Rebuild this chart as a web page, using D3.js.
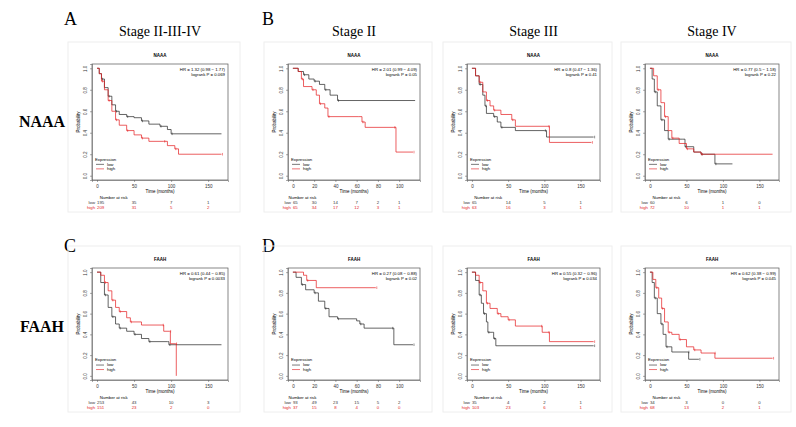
<!DOCTYPE html><html><head><meta charset="utf-8">
<script src="https://cdn.jsdelivr.net/npm/d3@7/dist/d3.min.js"></script>
<style>body{margin:0;background:#fff}</style></head><body>
<svg id="c" width="796" height="427"></svg>
<script>
const genes=["NAAA","NAAA","NAAA","NAAA","FAAH","FAAH","FAAH","FAAH"];
const xMaxes=[170,115,170,170,170,115,170,170];
const xTicks=[[0,50,100,150],[0,20,40,60,80,100],[0,50,100,150],[0,50,100,150],[0,50,100,150],[0,20,40,60,80,100],[0,50,100,150],[0,50,100,150]];
const hrText=["HR = 1.32 (0.98 − 1.77)","HR = 2.01 (0.99 − 4.09)","HR = 0.8 (0.47 − 1.36)","HR = 0.77 (0.5 − 1.18)","HR = 0.61 (0.44 − 0.85)","HR = 0.27 (0.08 − 0.88)","HR = 0.55 (0.32 − 0.96)","HR = 0.62 (0.38 − 0.99)"];
const pText=["logrank P = 0.069","logrank P = 0.05","logrank P = 0.41","logrank P = 0.22","logrank P = 0.0033","logrank P = 0.02","logrank P = 0.034","logrank P = 0.045"];
const lowCurves=[
[[0,1],[3,.95],[6,.9],[10,.82],[15,.74],[20,.66],[25,.6],[30,.57],[40,.55],[50,.54],[60,.51],[70,.48],[85,.46],[95,.43],[100,.39],[168,.39]],
[[0,1],[5,.97],[10,.94],[15,.9],[20,.88],[25,.85],[30,.8],[35,.75],[42,.7],[115,.7]],
[[0,1],[5,.93],[10,.85],[15,.75],[18,.65],[20,.58],[30,.55],[35,.5],[40,.45],[60,.42],[100,.42],[103,.36],[168,.36]],
[[0,1],[3,.9],[6,.78],[10,.65],[15,.52],[20,.42],[25,.34],[45,.34],[48,.27],[60,.22],[70,.2],[88,.2],[89,.11],[113,.11]],
[[0,1],[5,.9],[10,.78],[15,.66],[20,.57],[25,.5],[30,.46],[40,.43],[50,.4],[60,.36],[70,.33],[95,.33],[97,.3],[168,.3]],
[[0,1],[3,.95],[8,.88],[12,.83],[20,.8],[24,.72],[30,.65],[34,.57],[42,.55],[60,.53],[63,.5],[67,.46],[93,.46],[95,.3],[113,.3]],
[[0,1],[5,.92],[10,.78],[13,.7],[16,.6],[20,.52],[22,.42],[28,.42],[30,.36],[33,.29],[168,.29]],
[[0,1],[3,.9],[6,.75],[10,.6],[15,.5],[18,.4],[22,.28],[30,.23],[52,.23],[53,.16],[67,.16]]];
const highCurves=[
[[0,1],[3,.95],[6,.88],[10,.8],[15,.7],[20,.6],[25,.52],[30,.47],[40,.42],[50,.38],[60,.35],[70,.32],[90,.32],[95,.28],[105,.25],[110,.2],[168,.2]],
[[0,1],[5,.97],[8,.9],[10,.83],[18,.8],[22,.75],[25,.67],[30,.63],[33,.55],[62,.55],[65,.5],[68,.45],[95,.45],[97,.22],[113,.22]],
[[0,1],[5,.93],[10,.87],[15,.78],[20,.7],[25,.65],[30,.61],[40,.57],[55,.52],[60,.46],[105,.46],[107,.31],[165,.31]],
[[0,1],[5,.93],[10,.8],[15,.68],[20,.55],[25,.42],[30,.35],[40,.3],[50,.25],[60,.22],[70,.2],[168,.2]],
[[0,1],[5,.97],[10,.9],[15,.82],[20,.73],[25,.66],[30,.62],[40,.56],[45,.52],[60,.49],[88,.49],[90,.43],[98,.43],[99,.31],[106,.31],[107,0]],
[[0,1],[10,.97],[13,.92],[22,.85],[78,.85]],
[[0,1],[5,.97],[10,.9],[15,.82],[20,.7],[25,.65],[35,.6],[40,.57],[50,.54],[60,.48],[95,.48],[97,.42],[105,.42],[107,.33],[168,.33]],
[[0,1],[4,.93],[8,.85],[12,.75],[16,.65],[20,.52],[25,.42],[30,.4],[40,.35],[50,.28],[60,.25],[70,.22],[88,.22],[89,.17],[168,.17]]];
const riskLow=[[195,35,7,1],[65,30,14,7,2,1],[65,14,5,1],[60,6,1,0],[253,43,10,3],[93,49,23,15,5,2],[35,4,2,1],[34,3,0,0]];
const riskHigh=[[209,31,5,2],[65,34,17,12,3,1],[63,16,3,1],[72,10,1,1],[151,23,2,0],[37,15,8,4,0,0],[103,23,6,1],[68,13,2,1]];
const yTicks=[0,0.2,0.4,0.6,0.8,1.0];
const stages=["Stage II-III-IV","Stage II","Stage III","Stage IV"];
const letters=[["A",64,25],["B",262,25],["C",64,252],["D",262,252]];

const svg=d3.select("#c");
const frameX=[[92,228],[288,420],[467,600],[645,779]];
const frameY=[[64,180],[268,380]];
stages.forEach((s,i)=>svg.append("text").attr("x",(frameX[i][0]+frameX[i][1])/2).attr("y",36).attr("text-anchor","middle").attr("font-family","Liberation Serif").attr("font-size",14).text(s));
letters.forEach(l=>svg.append("text").attr("x",l[1]).attr("y",l[2]).attr("font-family","Liberation Serif").attr("font-size",18).text(l[0]));
[["NAAA",127],["FAAH",332]].forEach(g=>svg.append("text").attr("x",42).attr("y",g[1]).attr("text-anchor","middle").attr("font-family","Liberation Serif").attr("font-weight","bold").attr("font-size",16).text(g[0]));

for(let p=0;p<8;p++){
  const col=p%4,row=Math.floor(p/4);
  const [x0,x1]=frameX[col],[y0,y1]=frameY[row];
  const g=svg.append("g").attr("font-family","Liberation Sans");
  g.append("rect").attr("x",x0-24).attr("y",y0-22).attr("width",x1-x0+36).attr("height",y1-y0+54).attr("fill","none").attr("stroke","#eee");
  const xm=xMaxes[p];
  const x=d3.scaleLinear().domain([-xm*0.04,xm*1.04]).range([x0,x1]);
  const y=d3.scaleLinear().domain([-0.04,1.04]).range([y1,y0]);
  g.append("rect").attr("x",x0).attr("y",y0).attr("width",x1-x0).attr("height",y1-y0).attr("fill","none").attr("stroke","#555").attr("stroke-width",0.7);
  g.append("text").attr("x",(x0+x1)/2).attr("y",y0-7).attr("text-anchor","middle").attr("font-size",4.5).attr("font-weight","bold").text(genes[p]);
  const ax=g.append("g").attr("transform",`translate(0,${y1})`).call(d3.axisBottom(x).tickValues(xTicks[p]).tickSize(2).tickFormat(d3.format("d")));
  const ay=g.append("g").attr("transform",`translate(${x0},0)`).call(d3.axisLeft(y).tickValues(yTicks).tickSize(2).tickFormat(d3.format(".1f")));
  [ax,ay].forEach(a=>{a.select(".domain").attr("stroke","#555").attr("stroke-width",0.5);a.selectAll("line").attr("stroke","#555").attr("stroke-width",0.5);a.selectAll("text").attr("font-size",4.5).attr("fill","#333");});
  ay.selectAll("text").attr("x",null).attr("dy",null).attr("text-anchor","middle").attr("transform","translate(-5,0) rotate(-90)");
  g.append("text").attr("transform",`translate(${x0-12},${(y0+y1)/2}) rotate(-90)`).attr("text-anchor","middle").attr("font-size",4.5).text("Probability");
  g.append("text").attr("x",(x0+x1)/2).attr("y",y1+13).attr("text-anchor","middle").attr("font-size",4.5).text("Time (months)");
  const line=d3.line().x(d=>x(d[0])).y(d=>y(d[1])).curve(d3.curveStepAfter);
  [[lowCurves[p],"#222"],[highCurves[p],"#e41a1c"]].forEach(([c,clr])=>{
    g.append("path").attr("d",line(c)).attr("fill","none").attr("stroke",clr).attr("stroke-width",0.7);
    c.forEach((d,i)=>{if(i>0&&i%2==0){g.append("line").attr("x1",x(d[0])+1).attr("x2",x(d[0])+1).attr("y1",y(d[1])-1.3).attr("y2",y(d[1])+1.3).attr("stroke",clr).attr("stroke-width",0.5);}});
  });
  g.append("text").attr("x",x1-3).attr("y",y0+7).attr("text-anchor","end").attr("font-size",4.3).text(hrText[p]);
  g.append("text").attr("x",x1-3).attr("y",y0+12).attr("text-anchor","end").attr("font-size",4.3).text(pText[p]);
  const ly=y(0.14);
  g.append("text").attr("x",x0+3).attr("y",ly).attr("font-size",4.3).text("Expression");
  [["low","#222"],["high","#e41a1c"]].forEach(([t,clr],i)=>{
    g.append("line").attr("x1",x0+4).attr("x2",x0+12).attr("y1",ly+5+i*4.5-1.3).attr("y2",ly+5+i*4.5-1.3).attr("stroke",clr).attr("stroke-width",0.6);
    g.append("text").attr("x",x0+15).attr("y",ly+5+i*4.5).attr("font-size",4.3).text(t);
  });
  g.append("text").attr("x",x(xTicks[p][1]*0.45)).attr("y",y1+19).attr("text-anchor","middle").attr("font-size",4.3).text("Number at risk");
  [[riskLow[p],"low","#333"],[riskHigh[p],"high","#e41a1c"]].forEach(([r,lab,clr],i)=>{
    const yy=y1+24+i*5;
    g.append("text").attr("x",x(0)-2).attr("y",yy).attr("text-anchor","end").attr("font-size",4.3).attr("fill",clr).text(lab);
    r.forEach((v,k)=>g.append("text").attr("x",x(xTicks[p][k])).attr("y",yy).attr("text-anchor",k==0?"start":"middle").attr("font-size",4.3).attr("fill",clr).text(v));
  });
}
</script></body></html>
